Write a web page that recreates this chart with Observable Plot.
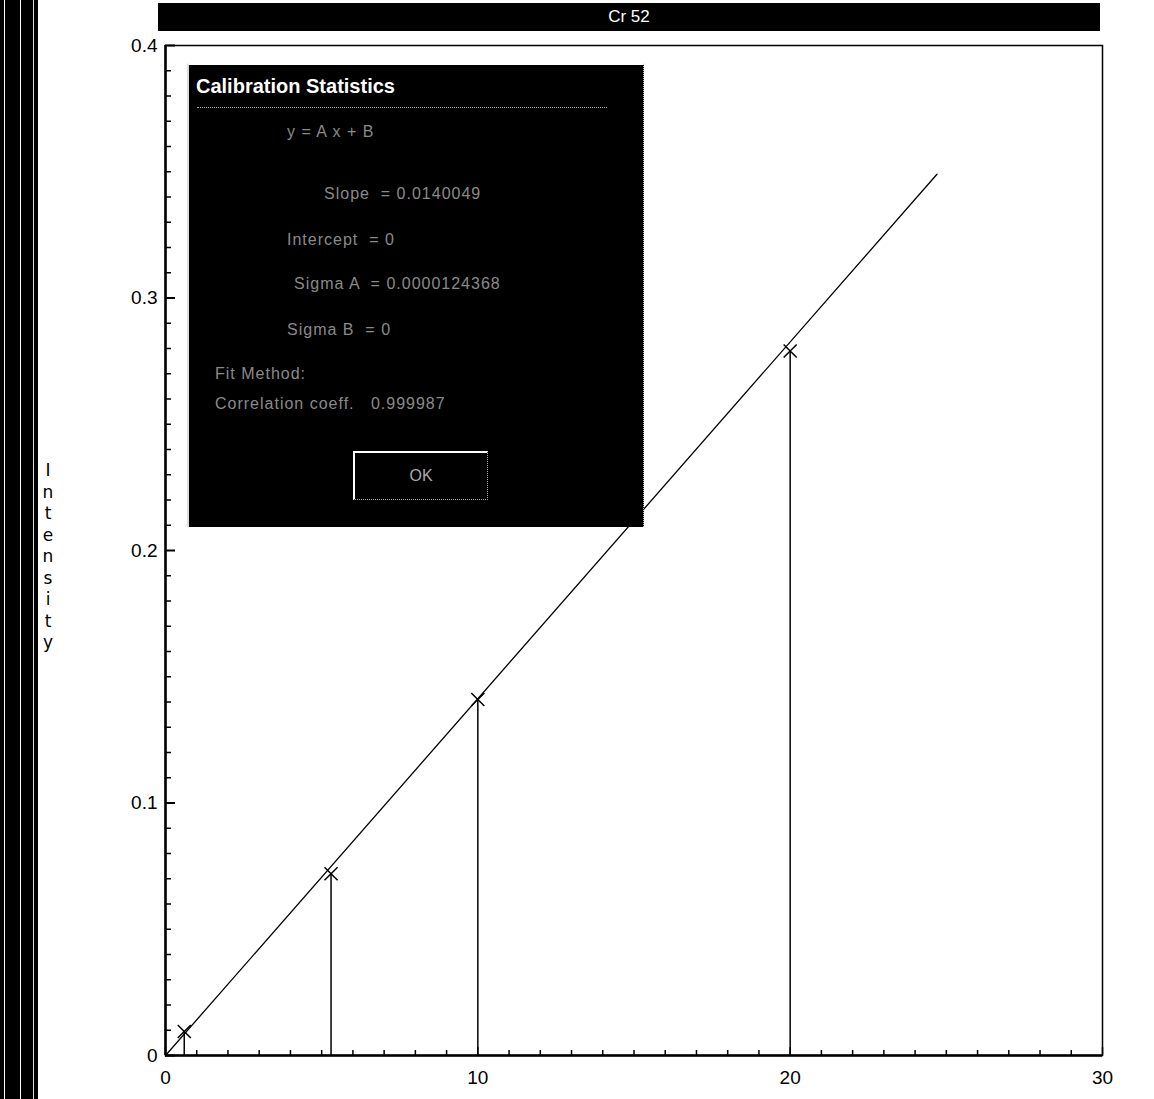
<!DOCTYPE html>
<html>
<head>
<meta charset="utf-8">
<script src="https://cdn.jsdelivr.net/npm/d3@7"></script>
<script src="https://cdn.jsdelivr.net/npm/@observablehq/plot@0.6"></script>
<style>
  html, body { margin: 0; padding: 0; background: #fff; }
  body { width: 1154px; height: 1099px; position: relative; overflow: hidden; font-family: "Liberation Sans", Arial, sans-serif; }
  #chart { position: absolute; left: 0; top: 0; }
  .strip { position: absolute; left: 0; top: 0; width: 40px; height: 1099px; background:
    linear-gradient(to right, #000 0 4px, #fff 4px 5px, #000 5px 20px, #fff 20px 21px, #000 21px 33px, #ddd 33px 34px, #000 34px 38px, #fff 38px 40px); }
  .ylabel { position: absolute; left: 40px; top: 460px; width: 16px; text-align: center; font-size: 17px; line-height: 21.5px; color: #000; font-family: "DejaVu Sans", sans-serif; }
  .titlebar { position: absolute; left: 158px; top: 3px; width: 942px; height: 28px; background: #000; color: #fff; text-align: center; font-size: 17px; line-height: 28px; }
  .dialog { position: absolute; left: 187px; top: 63px; width: 454px; height: 462px; background: #000; border-top: 2px solid #fff; border-left: 2px solid #ddd; border-right: 1px dotted #bbb; }
  .dialog .dt { position: absolute; left: 7px; top: 10px; color: #fff; font-weight: bold; font-size: 20px; font-family: "Liberation Sans", Arial, sans-serif; }
  .dialog .sep { position: absolute; left: 8px; top: 42px; width: 410px; border-top: 1px dotted #aaa; }
  .dialog .row { position: absolute; color: #8a8a8a; font-size: 16px; letter-spacing: 1px; white-space: pre; }
  .dialog .ok { position: absolute; left: 164px; top: 386px; width: 132px; height: 46px; border-top: 2px solid #fff; border-left: 2px solid #fff; border-bottom: 1px dotted #aaa; border-right: 1px dotted #aaa; color: #aaa; text-align: center; line-height: 46px; font-size: 16px; }
</style>
</head>
<body>
<div id="chart"></div>
<div class="strip"></div>
<div class="ylabel">I<br>n<br>t<br>e<br>n<br>s<br>i<br>t<br>y</div>
<div class="titlebar">Cr 52</div>
<div class="dialog">
  <div class="dt">Calibration Statistics</div>
  <div class="sep"></div>
  <div class="row" style="left:98px;top:58px">y = A x + B</div>
  <div class="row" style="left:135px;top:120px">Slope  = 0.0140049</div>
  <div class="row" style="left:98px;top:166px">Intercept  = 0</div>
  <div class="row" style="left:105px;top:210px">Sigma A  = 0.0000124368</div>
  <div class="row" style="left:98px;top:256px">Sigma B  = 0</div>
  <div class="row" style="left:26px;top:300px">Fit Method:</div>
  <div class="row" style="left:26px;top:330px">Correlation coeff.   0.999987</div>
  <div class="ok">OK</div>
</div>
<script>
// Calibration standards (concentration vs intensity)
const concentration = [0.6, 5.3, 10.0, 20.0];
const intensity = [0.0095, 0.072, 0.141, 0.279];
// Calibration fit line end points
const fitX = [0, 24.7];
const fitY = [0, 0.349];
// Tick values
const xMajor = [0, 10, 20, 30];
const xMinor = d3.range(1, 30).filter(v => v % 10 !== 0);
const yMajor = [0, 0.1, 0.2, 0.3, 0.4];
const yMinor = d3.range(1, 40).filter(v => v % 10 !== 0).map(v => v / 100);

const points = concentration.map((c, i) => ({x: c, y: intensity[i]}));
const fit = fitX.map((x, i) => ({x, y: fitY[i]}));

const chart = Plot.plot({
  width: 1154,
  height: 1099,
  marginLeft: 165,
  marginRight: 52,
  marginTop: 45,
  marginBottom: 44,
  style: {fontSize: "19px", fontFamily: "Liberation Sans, Arial, sans-serif", color: "#000", background: "transparent"},
  x: {domain: [0, 30]},
  y: {domain: [0, 0.4]},
  marks: [
    Plot.frame({stroke: "#000", strokeWidth: 1.5}),
    Plot.axisX({ticks: xMinor, tickSize: -5, tickFormat: () => "", label: null, strokeWidth: 1.5}),
    Plot.axisX({ticks: xMajor, tickSize: -8, tickPadding: 23, fontSize: 19, tickFormat: d => String(d), label: null, strokeWidth: 1.5}),
    Plot.axisY({ticks: yMinor, tickSize: -6, tickFormat: () => "", label: null, strokeWidth: 1.5}),
    Plot.axisY({ticks: yMajor, tickSize: -10, tickPadding: 18, fontSize: 19, tickFormat: d => d === 0 ? "0" : d.toFixed(1), label: null, strokeWidth: 2}),
    Plot.ruleY([0], {stroke: "#000", strokeWidth: 2.5}),
    Plot.ruleX([0], {stroke: "#000", strokeWidth: 2.5}),
    Plot.ruleX(points, {x: "x", y1: 0, y2: "y", stroke: "#000", strokeWidth: 1.5}),
    Plot.line(fit, {x: "x", y: "y", stroke: "#000", strokeWidth: 1.3}),
    Plot.dot(points, {x: "x", y: "y", symbol: "times", r: 6, stroke: "#000", strokeWidth: 1.5})
  ]
});
document.getElementById("chart").appendChild(chart);
</script>
</body>
</html>
